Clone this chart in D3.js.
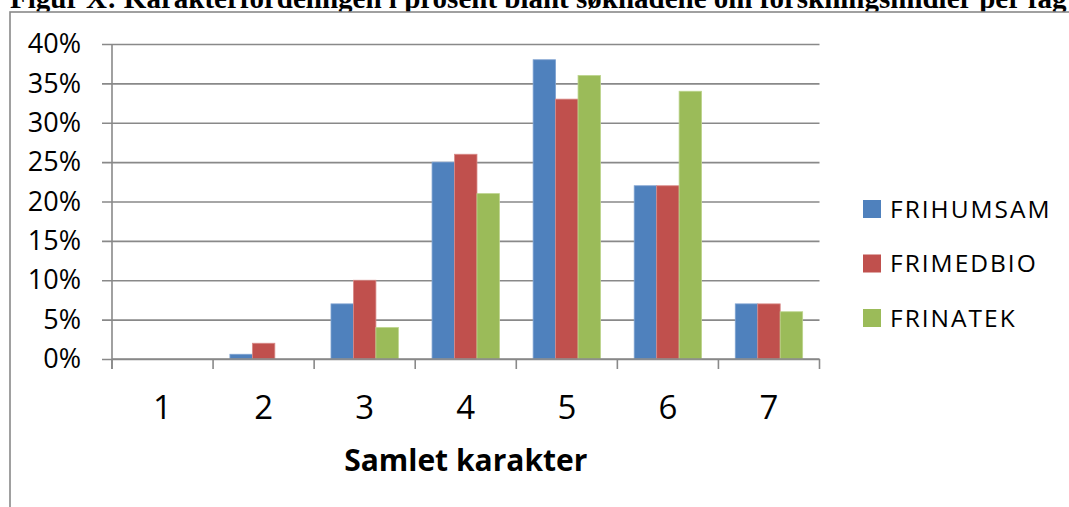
<!DOCTYPE html>
<html>
<head>
<meta charset="utf-8">
<script src="https://cdn.jsdelivr.net/npm/d3@7"></script>
<style>
  html, body { margin: 0; padding: 0; background: #fff; }
  svg { display: block; }
</style>
</head>
<body>
<svg id="chart" width="1069" height="507"></svg>
<script>
// ---- data ----
const categories = ["1", "2", "3", "4", "5", "6", "7"];
const seriesNames = ["FRIHUMSAM", "FRIMEDBIO", "FRINATEK"];
const frihumsam = [0, 0.006, 0.07, 0.25, 0.38, 0.22, 0.07];
const frimedbio = [0, 0.02, 0.10, 0.26, 0.33, 0.22, 0.07];
const frinatek  = [0, 0, 0.04, 0.21, 0.36, 0.34, 0.06];
const yTicks = [0, 0.05, 0.10, 0.15, 0.20, 0.25, 0.30, 0.35, 0.40];
const titleText = "Figur X: Karakterfordelingen i prosent blant søknadene om forskningsmidler per fag";
const xTitle = "Samlet karakter";

(function () {
const seriesValues = [frihumsam, frimedbio, frinatek];
const colors = ["#4F81BD", "#C0504D", "#9BBB59"];
const edges = ["#7FA3D1", "#D98A88", "#BCD48C"];

const svg = d3.select("#chart");
const gridColor = "#898989";

// document title (cut off at the top, as in the reference)
svg.append("text")
  .attr("x", 10).attr("y", 8)
  .attr("font-family", "'Liberation Serif', 'Times New Roman', serif")
  .attr("font-weight", "bold")
  .attr("font-size", 29)
  .attr("fill", "#000")
  .text(titleText);

// chart frame
svg.append("rect")
  .attr("x", 10).attr("y", 12)
  .attr("width", 1100).attr("height", 520)
  .attr("fill", "#fff")
  .attr("stroke", gridColor).attr("stroke-width", 1.6);

const pLeft = 112, pRight = 819.5, pTop = 44, pBottom = 359;

const x = d3.scaleBand().domain(categories).range([pLeft, pRight]).padding(0);
const xi = d3.scaleBand().domain(d3.range(seriesNames.length))
  .range([0, x.bandwidth()]).paddingInner(0).paddingOuter(0.75);
const y = d3.scaleLinear().domain([0, 0.4]).range([pBottom, pTop]);

// gridlines + left tick marks + y labels
const yAxis = d3.axisLeft(y)
  .tickValues(yTicks)
  .tickSize(pRight - 102)
  .tickPadding(21)
  .tickFormat(d => Math.round(d * 100) + "%");
const gy = svg.append("g")
  .attr("transform", `translate(${pRight},0)`)
  .call(yAxis);
gy.select(".domain").remove();
gy.selectAll(".tick line").attr("stroke", gridColor).attr("stroke-width", 1.6);
gy.selectAll(".tick text")
  .attr("font-family", "'Open Sans', sans-serif")
  .attr("font-size", 27)
  .attr("fill", "#000");

// bars
const flat = [];
categories.forEach((c, ci) => {
  seriesValues.forEach((vals, si) => flat.push({ c, si, v: vals[ci] }));
});
svg.append("g").selectAll("rect")
  .data(flat.filter(d => d.v > 0))
  .join("rect")
  .attr("x", d => x(d.c) + xi(d.si))
  .attr("y", d => y(d.v))
  .attr("width", xi.bandwidth())
  .attr("height", d => y(0) - y(d.v))
  .attr("fill", d => colors[d.si])
  .attr("stroke", d => edges[d.si])
  .attr("stroke-width", 0.8);

// x axis line and boundary ticks
svg.append("line")
  .attr("x1", pLeft).attr("x2", pRight)
  .attr("y1", pBottom).attr("y2", pBottom)
  .attr("stroke", gridColor).attr("stroke-width", 1.6);
svg.append("line")
  .attr("x1", pLeft).attr("x2", pLeft)
  .attr("y1", pTop).attr("y2", pBottom + 10)
  .attr("stroke", gridColor).attr("stroke-width", 1.6);
const bounds = categories.map(c => x(c)).concat([x(categories[categories.length - 1]) + x.bandwidth()]);
svg.append("g").selectAll("line")
  .data(bounds)
  .join("line")
  .attr("x1", d => d).attr("x2", d => d)
  .attr("y1", pBottom).attr("y2", pBottom + 10)
  .attr("stroke", gridColor).attr("stroke-width", 1.6);

// x labels
const xAxis = d3.axisBottom(x).tickSize(0).tickPadding(0);
const gx = svg.append("g").attr("transform", `translate(0,${pBottom})`).call(xAxis);
gx.select(".domain").remove();
gx.selectAll(".tick text")
  .attr("y", 60).attr("dy", null)
  .attr("font-family", "'Open Sans', sans-serif")
  .attr("font-size", 33)
  .attr("fill", "#000");

// x title
svg.append("text")
  .attr("x", (pLeft + pRight) / 2).attr("y", 471)
  .attr("text-anchor", "middle")
  .attr("font-family", "'Open Sans', sans-serif")
  .attr("font-weight", "bold")
  .attr("font-size", 30)
  .attr("fill", "#000")
  .text(xTitle);

// legend
const lg = svg.append("g").selectAll("g")
  .data(seriesNames)
  .join("g")
  .attr("transform", (d, i) => `translate(863,${200 + i * 54.5})`);
lg.append("rect")
  .attr("width", 18).attr("height", 18)
  .attr("fill", (d, i) => colors[i]);
lg.append("text")
  .attr("x", 27).attr("y", 17.5)
  .attr("font-family", "'Open Sans', sans-serif")
  .attr("font-size", 24.5)
  .attr("letter-spacing", 2)
  .attr("fill", "#000")
  .text(d => d);
})();
</script>
</body>
</html>
